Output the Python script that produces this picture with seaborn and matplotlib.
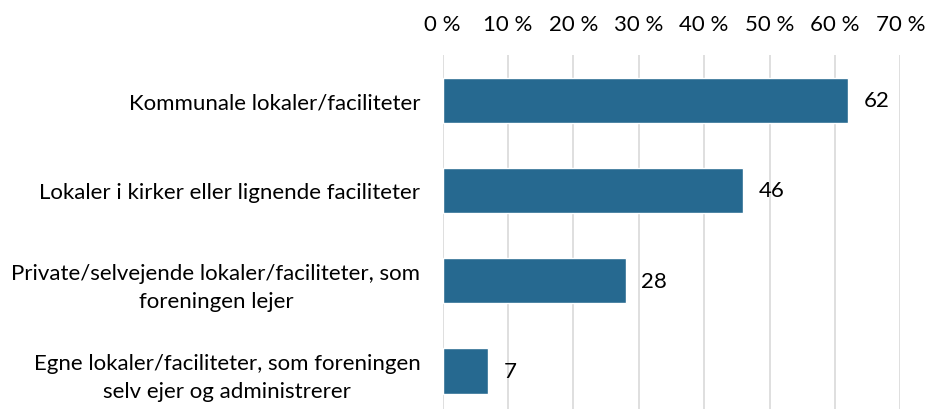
import matplotlib
matplotlib.use("Agg")
import matplotlib.pyplot as plt
import seaborn as sns
import pandas as pd

categories = [
    "Kommunale lokaler/faciliteter",
    "Lokaler i kirker eller lignende faciliteter",
    "Private/selvejende lokaler/faciliteter, som\nforeningen lejer",
    "Egne lokaler/faciliteter, som foreningen\nselv ejer og administrerer",
]
values = [62, 46, 28, 7]
x_ticks = [0, 10, 20, 30, 40, 50, 60, 70]
x_tick_labels = [f"{t} %" for t in x_ticks]

df = pd.DataFrame({"kategori": categories, "andel": values})

sns.set_theme(style="white")
plt.rcParams["font.family"] = ["Lato", "DejaVu Sans"]

fig = plt.figure(figsize=(9.26, 4.10), dpi=100)
ax = fig.add_axes([442.7 / 926, 0.0, (900.3 - 442.7) / 926, (410 - 56) / 410])

sns.barplot(data=df, x="andel", y="kategori", color="#266990", width=0.5,
            saturation=1, ax=ax, zorder=3)

ax.set_xlim(0, 70)
ax.set_ylim(3.42, -0.5)
ax.set_xticks(x_ticks)
ax.set_xticklabels(x_tick_labels)
ax.xaxis.tick_top()
ax.tick_params(axis="x", length=0, pad=15, labelsize=16, colors="black")
ax.tick_params(axis="y", length=0, pad=16, labelsize=16, colors="black")
for lbl in ax.get_yticklabels():
    lbl.set_multialignment("center")
    lbl.set_linespacing(1.5)
ax.set_xlabel("")
ax.set_ylabel("")
ax.grid(axis="x", color="#d9d9d9", linewidth=1.2, zorder=0)
ax.grid(axis="y", visible=False)
for s in ax.spines.values():
    s.set_visible(False)

ax.bar_label(ax.containers[0], labels=[str(v) for v in values], padding=11,
             fontsize=16, color="black")

fig.savefig("out.png", dpi=100)
